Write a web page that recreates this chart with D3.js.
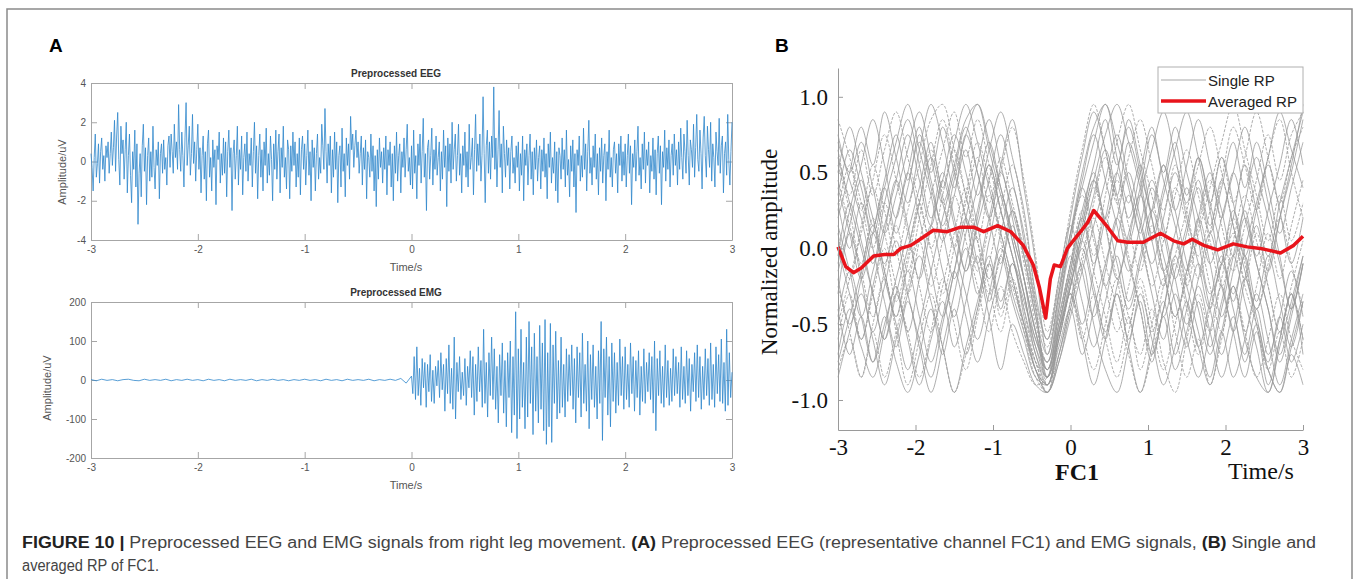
<!DOCTYPE html>
<html>
<head>
<meta charset="utf-8">
<script src="https://cdn.jsdelivr.net/npm/d3@7"></script>
<style>
  body { margin: 0; background: #fff; }
  svg { display: block; }
</style>
</head>
<body>
<svg id="chart" width="1357" height="579"></svg>
<script>
// EEG, FC1, sampled every 0.01 s from -3 s to 3 s (uV)
const eegValues = [
    .4,-.3,-1.5,.2,1.4,-.8,-.1,.9,-1.1,.5,1.2,-.4,.3,-1.0,.8,.2,1.0,-.6,.4,1.5,-.2,.7,2.1,-.5,1.3,
    2.5,.1,-1.2,1.8,.4,1.1,-.9,.6,2.0,-1.6,.3,1.4,-.7,-2.1,.5,-.4,1.6,-1.3,.9,-3.2,-.6,.4,-1.8,.8,1.9,
    -.5,.7,-2.2,.3,1.2,-1.0,.5,-.8,1.8,-.3,-1.4,.6,-.2,1.0,-1.9,.4,.9,-.6,1.1,-.4,.2,-1.2,.8,1.3,-.3,
    1.4,.5,-.6,1.9,.2,1.0,-.4,2.9,.6,-.5,1.5,.3,-1.3,1.2,3.0,-.2,.8,1.8,-.7,.4,2.4,-.1,1.0,-1.0,.6,
    1.9,-.4,.7,-1.6,.3,1.3,-.9,.5,-2.0,.9,1.6,-.8,.2,-1.5,1.1,-.3,.6,-2.2,.8,.1,1.5,-1.1,.4,-.7,1.2,
    -.6,1.0,-1.8,.5,1.6,-.3,.7,-2.5,.4,1.1,-.9,.3,1.8,-1.2,.6,-.4,1.3,-1.7,.2,.9,-.5,1.5,-1.0,.4,-.2,
    1.2,-1.3,.5,2.0,-.6,.8,-1.9,.3,1.4,-.8,.6,-1.5,1.0,-.2,1.7,-1.1,.4,-.7,1.3,.1,-2.0,.9,-.4,1.6,-.9,
    .5,1.4,-1.6,.7,-.3,1.8,-.8,.2,-1.4,1.1,.6,-1.9,.8,-.5,1.5,-.2,1.0,-1.3,.4,-.8,1.2,-1.7,.6,1.3,-.4,
    .9,-1.2,.3,1.6,-.7,.5,-2.0,1.1,-.3,.7,-1.5,.4,1.4,-.9,.2,-.6,1.9,.8,-.4,2.7,.5,-1.1,.9,-.2,1.3,
    -1.6,.6,-.8,1.5,-.4,1.0,-2.1,.3,.8,-1.3,1.7,-.5,.4,-1.8,1.2,-.2,.9,-.9,2.3,.6,1.4,-.3,.8,1.6,.2,
    1.0,-.6,.4,1.3,-1.2,.7,-.4,1.1,-1.9,.5,.2,-.8,1.4,-.5,.8,-1.5,.3,-2.3,.6,-.9,1.2,-.3,.5,-1.1,.7,
    -.4,1.3,-1.7,.6,-.2,1.0,-1.3,.4,-2.0,.8,-.6,1.5,-1.0,.3,.9,-1.6,.5,-.3,1.2,-.8,.6,1.9,-.5,.2,-1.2,
    .8,-1.4,1.6,-.6,.3,-1.9,.9,-.2,1.4,-1.1,.5,2.2,-.8,.4,-2.5,.7,1.1,-.9,.3,1.7,-1.2,.6,-.4,1.3,-.7,
    .2,1.0,-1.5,.5,-.9,1.6,-.3,.8,-2.3,1.2,-.5,.9,-1.1,2.0,-.4,.6,1.4,-1.0,.3,1.9,-.7,.4,-1.6,.8,-.2,
    1.5,-.8,.5,-1.3,1.9,-.4,.2,1.2,-1.7,.6,2.4,-.5,.9,-.2,1.4,-1.0,.3,3.3,.4,-2.1,.8,1.6,-.6,1.0,-.9,
    1.3,.2,3.8,-.4,1.2,-1.3,.6,2.6,-.3,.9,-1.6,1.8,.4,-.8,1.1,-.2,.7,-1.4,.5,1.3,-.6,.2,-1.1,.8,-.3,
    1.0,-1.5,.4,-.7,1.3,-2.0,.6,-.2,.9,-1.2,.3,1.4,-.9,.5,-1.7,.7,-.4,1.1,-1.0,.2,.8,-1.4,.6,-.5,1.2,
    -.8,.4,-1.9,.9,-.3,1.5,-1.1,.2,-.6,1.0,-1.5,.5,-2.1,.7,.3,-.9,1.2,-.4,.6,-1.3,1.6,-.7,.1,-1.8,.8,
    -.5,1.1,-1.3,.4,-2.6,.6,-.2,1.3,-1.0,.3,-.8,1.7,-.4,.9,-1.5,.5,2.1,-.6,.2,-1.2,.8,-.3,1.4,-.9,.4,
    -1.7,.7,-.5,1.2,-1.1,.3,.9,-2.0,.5,-.4,1.6,-.8,.2,-1.3,.6,1.0,-.6,.4,-1.6,.9,-.2,1.3,-1.0,.5,-.7,
    .9,-1.3,.3,1.4,-.6,.8,-2.2,.4,-.3,1.1,-1.0,.5,1.8,-.7,.2,-1.4,.9,-.4,1.5,-1.1,.6,-.2,1.0,-1.6,.3,
    -.5,1.2,-.9,.6,-1.7,.4,1.3,-.6,.8,-2.2,.5,-.3,1.6,-1.0,.7,-.4,1.1,-1.3,.3,.9,-.7,1.4,-.2,.6,-1.2,
    1.0,-.4,1.7,.2,-.9,1.4,.5,-.6,2.1,.3,-1.2,1.1,.6,-.3,1.9,-.8,.7,2.4,.1,-.5,1.6,.4,-1.4,1.2,2.3,
    .3,-.8,1.8,.6,-.3,2.0,-1.0,.9,.2,-1.3,1.5,.5,-.2,2.2,-.6,.8,1.3,-1.6,.4,1.0,-.7,2.4,.1,-1.2,.5,
    2.0
];

// EMG before movement, every 0.05 s from -3 s to -0.05 s (uV)
const emgRest = [
    1,-2,2,-1,1,-2,1,2,-1,-2,2,-1,1,-1,2,-2,1,-1,2,-1,
    1,-2,2,-1,1,-2,2,-1,1,-1,2,-2,1,-1,2,-1,1,-2,1,-1,
    2,-1,1,-2,2,-1,1,-2,2,-1,1,-1,2,-2,1,-1,2,-1,4,-8
];

// EMG during movement, every 0.0125 s from 0 s to 3 s (uV)
const emgActive = [
    10,-35,60,-50,85,-40,30,-65,55,-20,45,-70,40,-30,65,-55,25,-60,35,-15,
    50,-45,70,-25,40,-80,55,-35,90,-60,30,-75,110,-100,45,-30,60,-50,20,-40,
    55,-65,35,-20,75,-45,60,-90,40,-55,85,-30,50,-70,130,-60,45,-95,70,-40,
    110,-50,80,-75,35,-110,65,-40,95,-85,50,-120,70,-45,100,-135,60,-90,175,-150,
    80,-100,130,-70,45,-125,110,-95,150,-60,85,-140,120,-80,60,-110,140,-75,95,-130,
    155,-165,70,-120,145,-160,90,-60,125,-100,50,-85,110,-70,40,-95,80,-55,65,-40,
    90,-75,55,-110,85,-45,70,-95,120,-60,40,-80,100,-125,65,-50,90,-70,35,-100,
    75,-60,150,-155,80,-45,110,-90,60,-120,95,-55,70,-85,45,-65,105,-40,60,-75,
    85,-50,40,-70,95,-35,60,-80,50,-45,75,-90,35,-55,80,-60,45,-30,70,-50,
    60,-85,100,-130,55,-40,75,-60,35,-70,90,-45,50,-65,30,-55,80,-40,60,-35,
    45,-70,85,-50,35,-60,75,-40,55,-80,40,-30,70,-55,90,-45,60,-75,35,-50,
    80,-40,55,-65,95,-50,40,-70,85,-35,65,-55,105,-60,45,-80,130,-65,70,-45,
    20
];

// single-trial RP of FC1, every 0.15 s from -3 s to 3 s (normalized)
const singleRP = [
    [.70,.45,.20,-.10,.30,.60,.85,.55,.20,.45,.75,.50,.15,-.20,.10,.40,.05,-.40,-.85,-.40,.10,.50,.80,.95,.60,.30,.55,.20,-.15,.10,.40,.05,-.30,-.10,.25,-.05,-.40,-.15,.20,.50,.85],
    [-.80,-.60,-.85,-.50,-.20,-.55,-.90,-.60,-.30,-.65,-.95,-.70,-.40,-.10,-.45,-.20,-.50,-.75,-.95,-.60,-.30,-.55,-.80,-.50,-.20,-.45,-.70,-.40,-.75,-.95,-.60,-.30,-.55,-.20,.10,-.25,-.50,-.80,-.55,-.85,-.60],
    [.20,.50,.80,.55,.90,.60,.30,.65,.95,.70,.40,.75,.50,.20,.55,.85,.40,-.10,-.70,-.30,.20,.60,.90,.65,.35,.70,.45,.10,.40,.70,.35,.60,.25,-.10,.20,.55,.25,-.05,.30,.60,.90],
    [-.30,.10,-.20,-.55,-.25,.05,-.30,-.60,-.85,-.50,-.15,.20,-.10,-.45,-.80,-.50,-.70,-.90,-.95,-.75,-.40,-.10,-.50,-.80,-.95,-.65,-.35,-.70,-.40,-.05,-.35,-.65,-.90,-.55,-.25,-.60,-.85,-.95,-.60,-.30,-.70],
    [.55,.25,-.10,.20,-.15,-.45,-.10,.30,.65,.35,.00,.35,.70,.45,.10,-.20,-.50,-.80,-.90,-.50,-.10,.25,-.05,.35,.70,.95,.65,.35,.05,.40,.15,-.20,.10,.45,.80,.55,.25,.60,.85,.50,.20],
    [.00,-.30,-.60,-.25,.10,.45,.15,-.20,.15,.50,.20,-.15,.20,.55,.25,-.05,-.35,-.60,-.80,-.55,-.20,.15,.45,.15,-.20,.10,.40,.75,.45,.15,-.15,.20,-.10,-.45,-.15,.20,-.10,-.40,-.70,-.40,-.05],
    [.75,.50,.70,.40,.10,.35,.65,.90,.60,.30,.55,.85,.95,.70,.40,.10,-.20,-.55,-.75,-.35,.05,.40,.10,-.25,.05,.35,.05,-.30,-.60,-.30,-.60,-.85,-.55,-.25,-.55,-.20,.15,-.15,.20,.55,.95],
    [-.50,-.20,.10,.40,.10,-.25,-.55,-.85,-.55,-.20,-.50,-.80,-.45,-.10,.25,.55,.20,-.35,-.90,-.70,-.35,-.05,.30,.60,.30,-.05,-.40,-.70,-.40,-.05,.25,.55,.80,.50,.15,-.20,.10,-.25,-.55,-.30,-.60],
    [.35,.65,.40,.10,.40,.70,.95,.65,.35,.05,.35,.65,.35,.65,.90,.60,.25,-.30,-.60,-.20,.15,-.15,-.45,-.15,.20,-.10,-.40,-.75,-.45,-.80,-.55,-.25,-.55,-.85,-.55,-.20,-.50,-.80,-.95,-.65,-.35],
    [-.70,-.40,-.65,-.85,-.55,-.25,-.55,-.20,.15,-.15,-.45,-.10,.25,.55,.25,-.05,-.30,-.70,-.85,-.60,-.25,.10,.45,.75,.95,.70,.40,.05,.35,.65,.90,.60,.30,.60,.30,-.05,.25,.55,.25,-.10,.20],
    [.10,-.20,.15,.45,.75,.45,.10,-.25,-.55,-.25,.10,.40,.05,-.30,-.05,.25,-.10,-.50,-.75,-.45,-.10,.20,-.15,-.45,-.75,-.45,-.80,-.50,-.20,-.55,-.85,-.60,-.90,-.60,-.25,-.55,-.25,.10,-.20,.15,.45],
    [-.10,.25,.55,.85,.55,.20,.50,.20,-.15,-.45,-.15,.20,.55,.85,.55,.25,-.05,-.45,-.70,-.30,.10,.45,.75,.45,.15,-.15,.15,.45,.15,-.20,-.50,-.20,.10,-.25,-.55,-.85,-.55,-.90,-.60,-.30,-.60],
    [-.85,-.55,-.30,-.60,-.90,-.60,-.30,-.05,-.35,-.65,-.95,-.65,-.35,-.05,-.35,-.10,-.45,-.80,-.95,-.70,-.35,.00,-.30,-.60,-.30,-.65,-.95,-.65,-.35,-.70,-.40,-.10,-.40,-.70,-.45,-.75,-.50,-.80,-.95,-.70,-.90],
    [.45,.15,-.15,-.45,-.15,.15,-.15,.20,.55,.85,.55,.20,-.15,.15,.50,.80,.45,-.05,-.55,-.20,.25,.65,.95,.65,.30,.60,.85,.55,.25,.55,.25,-.05,.25,.60,.30,.60,.90,.60,.30,.60,.80],
    [.60,.30,.00,-.30,-.60,-.30,-.60,-.90,-.60,-.35,-.65,-.35,-.05,-.35,-.05,-.35,-.60,-.85,-.90,-.55,-.20,-.50,-.15,.20,-.10,-.40,-.10,.25,.55,.25,-.10,-.40,-.70,-.40,-.05,.30,.60,.30,-.05,-.40,-.10],
    [-.20,-.50,-.20,.10,-.20,-.50,-.80,-.50,-.15,.20,.50,.80,.50,.20,-.10,.25,-.05,-.45,-.80,-.50,-.15,.20,.50,.20,.50,.80,.50,.20,-.15,-.45,-.15,.20,.50,.20,.50,.20,-.10,-.40,-.75,-.45,-.10],
    [.85,.60,.30,.00,.30,.00,-.30,.05,.35,.65,.90,.60,.85,.55,.25,-.05,-.40,-.75,-.90,-.60,-.25,.10,.40,.15,-.20,-.50,-.20,-.50,-.80,-.50,-.20,.10,.40,.70,.95,.65,.35,.05,.35,.05,.30],
    [-.40,-.70,-.45,-.75,-.50,-.20,.10,.40,.70,.40,.70,.95,.70,.40,.10,-.20,-.50,-.80,-.90,-.65,-.40,-.70,-.40,-.10,.20,.50,.20,-.10,.20,.50,.20,-.10,-.40,-.10,-.40,-.70,-.40,-.70,-.45,-.15,-.45],
    [.30,.00,.30,.00,-.35,-.65,-.35,-.65,-.95,-.65,-.30,.00,-.30,.05,.35,.05,-.30,-.65,-.85,-.55,-.25,.05,.35,.65,.35,.05,.35,.65,.90,.60,.30,.60,.30,.00,-.30,.00,.30,.60,.90,.65,.40],
    [-.60,-.30,-.60,-.30,.00,-.35,-.05,.30,.00,.35,.65,.35,.05,-.25,-.55,-.25,-.55,-.85,-.95,-.70,-.40,-.10,.20,-.10,-.40,-.70,-.95,-.70,-.40,-.10,-.40,-.70,-.40,-.10,.20,-.10,-.40,-.10,.20,-.10,-.40],
    [.50,.80,.50,.20,-.10,.20,.50,.80,.50,.80,.50,.20,-.10,.20,.50,.20,-.20,-.60,-.75,-.40,-.05,-.35,-.65,-.35,-.05,-.35,-.05,.25,-.05,-.35,-.65,-.35,-.65,-.35,-.05,-.35,-.65,-.95,-.65,-.35,-.05],
    [-.05,.30,.05,-.30,-.60,-.30,.00,.30,.60,.30,.00,-.30,-.60,-.30,.00,-.30,-.55,-.80,-.95,-.75,-.45,-.15,.15,.45,.75,.45,.15,-.15,-.45,-.15,.15,.45,.15,.45,.15,-.15,-.45,-.75,-.45,-.75,-.50],
    [.65,.35,.65,.35,.65,.90,.60,.30,.00,-.30,.00,.30,.60,.30,.60,.30,.00,-.40,-.65,-.30,.05,.35,.05,-.25,-.55,-.25,.05,-.25,.05,.35,.65,.35,.05,-.25,.05,.35,.05,-.25,-.55,-.25,.05],
    [-.75,-.45,-.15,.15,-.15,-.45,-.15,-.45,-.75,-.45,-.15,-.45,-.75,-.45,-.15,.15,-.20,-.55,-.85,-.55,-.25,.05,-.25,-.55,-.25,.05,.35,.05,-.25,.05,-.25,-.55,-.85,-.55,-.85,-.60,-.30,-.60,-.90,-.60,-.30],
    [.15,-.15,-.45,-.15,.15,.45,.75,.45,.15,.45,.15,-.15,.15,.45,.75,.45,.10,-.35,-.60,-.25,.10,.40,.70,.95,.70,.40,.10,.40,.10,-.20,.10,.40,.10,.40,.70,.40,.70,.40,.10,.40,.70],
    [-.25,-.55,-.85,-.55,-.85,-.55,-.25,.05,-.25,.05,.35,.05,-.25,-.55,-.25,-.55,-.75,-.90,-.85,-.60,-.30,-.60,-.30,-.60,-.85,-.55,-.25,-.55,-.25,.05,-.25,.05,-.25,-.55,-.25,-.55,-.85,-.60,-.30,-.60,-.80],
    [.40,.10,-.20,.10,.40,.10,.40,.70,.40,.10,-.20,.10,.40,.70,.40,.10,-.20,-.55,-.80,-.45,-.10,.25,.55,.85,.55,.85,.55,.25,.55,.25,.55,.85,.55,.25,-.05,.25,-.05,.25,.55,.85,.55],
    [-.45,-.15,-.45,-.75,-.45,-.75,-.95,-.70,-.40,-.70,-.40,-.70,-.40,-.10,-.40,-.10,-.40,-.70,-.90,-.60,-.30,-.60,-.90,-.60,-.30,-.60,-.30,-.60,-.90,-.65,-.35,-.65,-.35,-.05,-.35,-.05,-.35,-.05,-.35,-.65,-.35],
    [.25,.55,.25,.55,.25,-.05,.25,.55,.85,.95,.65,.35,.05,.35,.05,-.25,-.50,-.75,-.85,-.55,-.20,.15,.45,.15,.45,.15,-.15,.15,-.15,-.45,-.15,.15,.45,.15,-.15,.15,.45,.75,.45,.75,.90],
    [-.15,.15,.45,.15,.45,.75,.45,.75,.45,.15,.45,.75,.95,.65,.35,.05,-.30,-.65,-.80,-.50,-.15,.20,-.10,.20,.50,.20,.50,.80,.50,.80,.50,.20,-.10,.20,.50,.80,.50,.20,-.10,-.40,-.10]
];

// averaged RP
const avgTime = [-3.0,-2.9,-2.8,-2.7,-2.62,-2.54,-2.4,-2.28,-2.19,-2.06,-1.94,-1.77,-1.59,-1.42,-1.25,-1.12,-0.94,-0.77,-0.61,-0.48,-0.4,-0.32,-0.26,-0.21,-0.13,-0.04,0.05,0.13,0.22,0.3,0.4,0.48,0.61,0.74,0.94,1.16,1.33,1.46,1.57,1.72,1.9,2.1,2.28,2.45,2.71,2.88,3.0];
const avgValue = [0.01,-0.12,-0.16,-0.13,-0.09,-0.05,-0.04,-0.04,0.0,0.02,0.06,0.12,0.11,0.14,0.14,0.11,0.15,0.11,0.02,-0.11,-0.26,-0.46,-0.2,-0.11,-0.12,0.0,0.06,0.11,0.17,0.25,0.19,0.14,0.05,0.04,0.04,0.1,0.05,0.03,0.06,0.02,-0.01,0.03,0.01,0.0,-0.03,0.02,0.08];

const timeTicks = [-3, -2, -1, 0, 1, 2, 3];
const eegTicks = [-4, -2, 0, 2, 4];
const emgTicks = [-200, -100, 0, 100, 200];
const rpTicks = [-1, -0.5, 0, 0.5, 1];

const svg = d3.select("#chart");
const sans = "'Liberation Sans', Arial, sans-serif";
const serif = "'Liberation Serif', 'Times New Roman', serif";

// frame
svg.append("rect")
    .attr("x", 7).attr("y", 9)
    .attr("width", 1345).attr("height", 600)
    .attr("fill", "none")
    .attr("stroke", "#8a8a8a")
    .attr("stroke-width", 1.5);

svg.append("text").attr("x", 49).attr("y", 52)
    .style("font", `bold 19px ${sans}`).text("A");
svg.append("text").attr("x", 775).attr("y", 52)
    .style("font", `bold 19px ${sans}`).text("B");

// ---------- panel A ----------
const xA = d3.scaleLinear().domain([-3, 3]).range([91, 732]);

function matlabAxes(y, top, bottom, ticks, title, labelX, labelY) {
    const g = svg.append("g");
    const axisColor = "#a6a6a6";

    const bottomAxis = g.append("g").attr("transform", `translate(0,${bottom})`)
        .call(d3.axisBottom(xA).tickValues(timeTicks).tickSize(-6).tickSizeOuter(0).tickPadding(6).tickFormat(d => String(d)));
    const topAxis = g.append("g").attr("transform", `translate(0,${top})`)
        .call(d3.axisTop(xA).tickValues(timeTicks).tickSize(-6).tickSizeOuter(0).tickFormat(""));
    const leftAxis = g.append("g").attr("transform", `translate(91,0)`)
        .call(d3.axisLeft(y).tickValues(ticks).tickSize(-6).tickSizeOuter(0).tickPadding(5).tickFormat(d => String(d)));
    const rightAxis = g.append("g").attr("transform", `translate(732,0)`)
        .call(d3.axisRight(y).tickValues(ticks).tickSize(-6).tickSizeOuter(0).tickFormat(""));

    [bottomAxis, topAxis, leftAxis, rightAxis].forEach(a => {
        a.select(".domain").attr("stroke", axisColor);
        a.selectAll(".tick line").attr("stroke", axisColor);
        a.selectAll("text").attr("fill", "#555").style("font", `10px ${sans}`);
    });

    g.append("text").attr("x", 396).attr("y", top - 6)
        .attr("text-anchor", "middle").attr("fill", "#333")
        .style("font", `bold 10px ${sans}`).text(title);
    g.append("text").attr("x", 406).attr("y", bottom + 31)
        .attr("text-anchor", "middle").attr("fill", "#555")
        .style("font", `11px ${sans}`).text("Time/s");
    g.append("text")
        .attr("transform", `translate(${labelX},${labelY}) rotate(-90)`)
        .attr("text-anchor", "middle").attr("fill", "#555")
        .style("font", `11px ${sans}`).text("Amplitude/uV");
    return g;
}

const yEEG = d3.scaleLinear().domain([-4, 4]).range([240, 83]);
matlabAxes(yEEG, 83, 240, eegTicks, "Preprocessed EEG", 66, 172);

svg.append("path")
    .datum(eegValues)
    .attr("fill", "none")
    .attr("stroke", "#2f87cc")
    .attr("stroke-width", 0.8)
    .attr("d", d3.line().x((d, i) => xA(-3 + i * 0.01)).y(d => yEEG(d)));

const yEMG = d3.scaleLinear().domain([-200, 200]).range([458, 302]);
matlabAxes(yEMG, 302, 458, emgTicks, "Preprocessed EMG", 51, 388);

const emgPoints = emgRest.map((v, i) => [-3 + i * 0.05, v])
    .concat(emgActive.map((v, i) => [i * 0.0125, v]));

svg.append("path")
    .datum(emgPoints)
    .attr("fill", "none")
    .attr("stroke", "#2f87cc")
    .attr("stroke-width", 0.8)
    .attr("d", d3.line().x(d => xA(d[0])).y(d => yEMG(d[1])));

// ---------- panel B ----------
const xB = d3.scaleLinear().domain([-3, 3]).range([838, 1303]);
const yB = d3.scaleLinear().domain([-1.198, 1.19]).range([430, 68]);

const rpLine = d3.line()
    .x((d, i) => xB(-3 + i * 0.15))
    .y(d => yB(d))
    .curve(d3.curveCatmullRom);

svg.append("g").selectAll("path")
    .data(singleRP)
    .enter()
    .append("path")
    .attr("fill", "none")
    .attr("stroke", "#999")
    .attr("stroke-width", 0.8)
    .attr("stroke-dasharray", (d, i) => i % 3 === 1 ? "3,1.5" : null)
    .attr("d", rpLine);

svg.append("path")
    .datum(avgTime.map((t, i) => [t, avgValue[i]]))
    .attr("fill", "none")
    .attr("stroke", "#e8141b")
    .attr("stroke-width", 3.5)
    .attr("stroke-linejoin", "round")
    .attr("d", d3.line().x(d => xB(d[0])).y(d => yB(d[1])));

const axB = svg.append("g");
const xAxisB = axB.append("g").attr("transform", "translate(0,430)")
    .call(d3.axisBottom(xB).tickValues(timeTicks).tickSize(-5).tickSizeOuter(0).tickPadding(9).tickFormat(d => String(d)));
const yAxisB = axB.append("g").attr("transform", "translate(838,0)")
    .call(d3.axisLeft(yB).tickValues(rpTicks).tickSize(-5).tickSizeOuter(0).tickPadding(10).tickFormat(d => d.toFixed(1)));
[xAxisB, yAxisB].forEach(a => {
    a.select(".domain").attr("stroke", "#9a9a9a");
    a.selectAll(".tick line").attr("stroke", "#9a9a9a");
    a.selectAll("text").attr("fill", "#111").style("font", `23px ${serif}`);
});

svg.append("text")
    .attr("transform", "translate(777,252) rotate(-90)")
    .attr("text-anchor", "middle").attr("fill", "#111")
    .style("font", `23px ${serif}`).text("Normalized amplitude");
svg.append("text").attr("x", 1077).attr("y", 480)
    .attr("text-anchor", "middle").attr("fill", "#111")
    .style("font", `bold 24px ${serif}`).text("FC1");
svg.append("text").attr("x", 1261).attr("y", 479)
    .attr("text-anchor", "middle").attr("fill", "#111")
    .style("font", `24px ${serif}`).text("Time/s");

// legend
const legend = svg.append("g");
legend.append("rect")
    .attr("x", 1158).attr("y", 67).attr("width", 145).attr("height", 46)
    .attr("fill", "#fff").attr("stroke", "#b0b0b0");
const legendItems = [
    { label: "Single RP", color: "#c4c4c4", width: 1.5, y: 80 },
    { label: "Averaged RP", color: "#e8141b", width: 3.5, y: 101 }
];
legendItems.forEach(d => {
    legend.append("line")
        .attr("x1", 1161).attr("x2", 1206).attr("y1", d.y).attr("y2", d.y)
        .attr("stroke", d.color).attr("stroke-width", d.width);
    legend.append("text")
        .attr("x", 1208).attr("y", d.y + 6)
        .attr("fill", "#222")
        .style("font", `15px ${sans}`).text(d.label);
});

// caption
const cap1 = svg.append("text").attr("x", 22).attr("y", 548)
    .attr("fill", "#444")
    .attr("textLength", 1294).attr("lengthAdjust", "spacingAndGlyphs")
    .style("font", `16px ${sans}`);
cap1.append("tspan").attr("font-weight", "bold").attr("fill", "#222").text("FIGURE 10 | ");
cap1.append("tspan").text("Preprocessed EEG and EMG signals from right leg movement. ");
cap1.append("tspan").attr("font-weight", "bold").attr("fill", "#222").text("(A)");
cap1.append("tspan").text(" Preprocessed EEG (representative channel FC1) and EMG signals, ");
cap1.append("tspan").attr("font-weight", "bold").attr("fill", "#222").text("(B)");
cap1.append("tspan").text(" Single and");

svg.append("text").attr("x", 22).attr("y", 571)
    .attr("fill", "#444")
    .attr("textLength", 137).attr("lengthAdjust", "spacingAndGlyphs")
    .style("font", `16px ${sans}`)
    .text("averaged RP of FC1.");
</script>
</body>
</html>
